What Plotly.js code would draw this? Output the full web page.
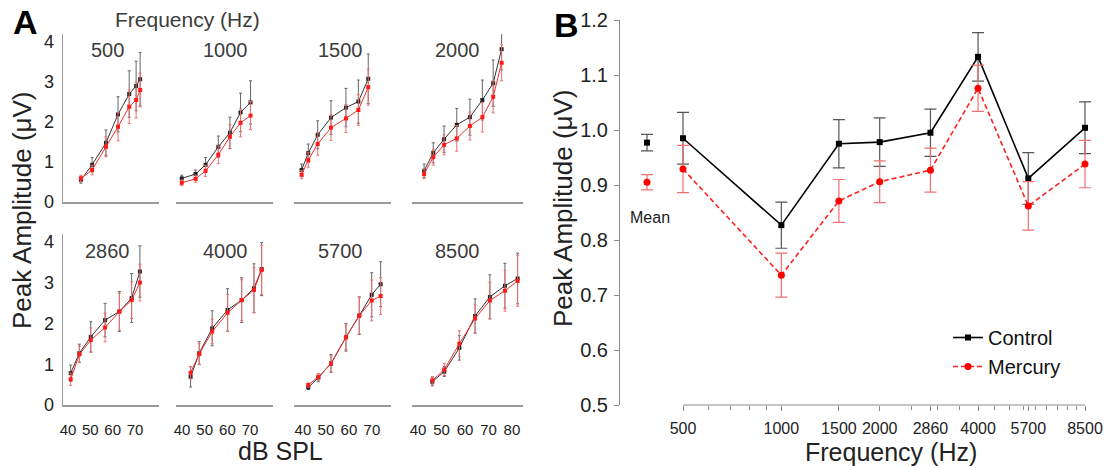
<!DOCTYPE html>
<html><head><meta charset="utf-8">
<script src="https://cdn.plot.ly/plotly-3.0.1.min.js"></script>
<style>html,body{margin:0;padding:0;background:#fff}#chart{width:1114px;height:468px}</style>
</head><body><div id="chart"></div>
<script>
// ---------- Panel A data (dB SPL vs peak amplitude, µV) ----------
const freqLabels = ['500','1000','1500','2000','2860','4000','5700','8500'];
const dbSPL = [
  [45.8, 50.8, 57.0, 62.4, 67.4, 70.5, 72.3],
  [39.9, 46.0, 50.4, 56.0, 61.1, 65.8, 70.2],
  [39.4, 42.3, 46.4, 52.2, 58.7, 64.1, 68.4],
  [42.6, 46.5, 51.1, 56.5, 62.1, 67.4, 72.0, 75.6],
  [41.2, 45.1, 50.2, 56.6, 63.0, 68.5, 72.2],
  [43.8, 47.6, 53.3, 60.1, 66.3, 71.7, 75.1],
  [42.3, 46.7, 52.2, 58.7, 64.5, 69.9, 73.8],
  [46.1, 51.2, 57.6, 64.3, 70.6, 77.0, 82.4]
];
const controlAmp = [
  [0.55, 0.93, 1.48, 2.19, 2.70, 2.90, 3.07],
  [0.59, 0.70, 0.93, 1.38, 1.73, 2.24, 2.49],
  [0.80, 1.22, 1.68, 2.11, 2.36, 2.51, 3.08],
  [0.78, 1.23, 1.57, 1.93, 2.12, 2.55, 2.97, 3.82],
  [0.78, 1.27, 1.67, 2.08, 2.29, 2.62, 3.27],
  [0.69, 1.27, 1.88, 2.33, 2.57, 2.86, 3.33],
  [0.43, 0.67, 1.02, 1.66, 2.19, 2.70, 2.96],
  [0.57, 0.82, 1.40, 2.18, 2.65, 2.92, 3.10]
];
const controlErr = [
  [0.08, 0.18, 0.32, 0.44, 0.58, 0.62, 0.67],
  [0.08, 0.10, 0.18, 0.27, 0.39, 0.48, 0.54],
  [0.15, 0.23, 0.35, 0.42, 0.48, 0.54, 0.62],
  [0.17, 0.25, 0.33, 0.41, 0.45, 0.50, 0.58, 0.52],
  [0.20, 0.22, 0.37, 0.41, 0.49, 0.60, 0.63],
  [0.25, 0.28, 0.43, 0.52, 0.55, 0.60, 0.65],
  [0.05, 0.10, 0.22, 0.34, 0.46, 0.54, 0.55],
  [0.10, 0.12, 0.30, 0.42, 0.54, 0.55, 0.62]
];
const mercuryAmp = [
  [0.59, 0.80, 1.38, 1.88, 2.38, 2.55, 2.80],
  [0.48, 0.58, 0.78, 1.18, 1.63, 1.98, 2.16],
  [0.68, 1.05, 1.45, 1.86, 2.09, 2.30, 2.87],
  [0.70, 1.12, 1.43, 1.59, 1.90, 2.12, 2.63, 3.48],
  [0.63, 1.24, 1.59, 1.90, 2.29, 2.57, 3.00],
  [0.79, 1.25, 1.80, 2.26, 2.57, 2.82, 3.31],
  [0.49, 0.69, 1.01, 1.66, 2.19, 2.56, 2.67],
  [0.60, 0.87, 1.50, 2.12, 2.56, 2.80, 3.04]
];
const mercuryErr = [
  [0.08, 0.12, 0.25, 0.35, 0.42, 0.45, 0.42],
  [0.07, 0.09, 0.14, 0.22, 0.30, 0.35, 0.35],
  [0.10, 0.18, 0.28, 0.32, 0.35, 0.38, 0.45],
  [0.12, 0.20, 0.25, 0.32, 0.35, 0.37, 0.40, 0.45],
  [0.15, 0.20, 0.30, 0.35, 0.45, 0.45, 0.45],
  [0.15, 0.25, 0.30, 0.45, 0.50, 0.55, 0.60],
  [0.05, 0.08, 0.20, 0.30, 0.45, 0.50, 0.45],
  [0.10, 0.15, 0.32, 0.35, 0.45, 0.50, 0.62]
];
const dbTicksShort = [40, 50, 60, 70];
const dbTicksLong = [40, 50, 60, 70, 80];
const ampTicks = [0, 1, 2, 3, 4];

// ---------- Panel B data (frequency vs peak amplitude) ----------
const bFreqs = [500, 1000, 1500, 2000, 2860, 4000, 5700, 8500];
const bFreqLabels = ['500','1000','1500','2000','2860','4000','5700','8500'];
const bMinorTicks = [600, 700, 800, 900, 2500, 3000, 3500, 4500, 5000, 5500, 6000, 6500, 7000, 7500, 8000];
const controlB = [0.985, 0.827, 0.975, 0.978, 0.995, 1.133, 0.912, 1.004];
const controlBErr = [0.047, 0.042, 0.044, 0.044, 0.043, 0.044, 0.047, 0.047];
const mercuryB = [0.929, 0.736, 0.871, 0.906, 0.927, 1.076, 0.862, 0.938];
const mercuryBErr = [0.043, 0.040, 0.039, 0.038, 0.040, 0.042, 0.044, 0.043];
const meanLabel = ['Mean'];
const controlMean = [0.977];
const controlMeanErr = [0.015];
const mercuryMean = [0.905];
const mercuryMeanErr = [0.014];
const bYTicks = [0.5, 0.6, 0.7, 0.8, 0.9, 1.0, 1.1, 1.2];

// ---------- layout helpers (pixel -> paper) ----------
const W = 1114, H = 468;
const fx = p => p / W;
const fy = p => 1 - p / H;
const FONT = 'Liberation Sans, Arial, sans-serif';

const colPx = [[63,159],[176,273],[294,391],[412,523]];
const colRange = [[37.76,80.75],[37.36,80.1],[36.1,78.3],[37.45,84.7]];
const rowPx = [[34,202],[233.6,405]];

const traces = [];
const layout = {
  width: W, height: H,
  margin: {l:0, r:0, t:0, b:0},
  paper_bgcolor: '#fff', plot_bgcolor: 'rgba(0,0,0,0)',
  font: {family: FONT, color: '#222'},
  showlegend: true,
  legend: {x: fx(948), y: fy(318), xanchor: 'left', yanchor: 'top',
           font: {size: 20, color: '#111', family: FONT}, bgcolor: 'rgba(0,0,0,0)',
           tracegroupgap: 0, itemwidth: 30},
  annotations: [], shapes: []
};

for (let i = 0; i < 8; i++) {
  const col = i % 4, row = Math.floor(i / 4);
  const xn = i + 1;
  const xa = 'xaxis' + (xn === 1 ? '' : xn);
  const xr = 'x' + (xn === 1 ? '' : xn);
  const yr = row === 0 ? 'y' : 'y2';
  layout[xa] = {
    domain: [fx(colPx[col][0]), fx(colPx[col][1])],
    range: colRange[col],
    anchor: yr,
    showline: true, linecolor: '#9a9a9a', linewidth: 2,
    showgrid: false, zeroline: false, ticks: '',
    tickmode: 'array', tickvals: col === 3 ? dbTicksLong : dbTicksShort,
    showticklabels: row === 1, tickangle: 0,
    tickfont: {size: 15, color: '#222'}, ticklabelstandoff: 10
  };
  traces.push({
    x: dbSPL[i], y: controlAmp[i], xaxis: xr, yaxis: yr, type: 'scatter', mode: 'lines+markers',
    line: {color: '#333', width: 1}, marker: {symbol: 'square', size: 4, color: '#222'},
    error_y: {type: 'data', array: controlErr[i], visible: true, color: '#666', thickness: 1, width: 1.5},
    showlegend: false, cliponaxis: false, hoverinfo: 'skip'
  });
  traces.push({
    x: dbSPL[i], y: mercuryAmp[i], xaxis: xr, yaxis: yr, type: 'scatter', mode: 'lines+markers',
    line: {color: '#f03030', width: 1}, marker: {symbol: 'square', size: 4, color: '#ff1a1a'},
    error_y: {type: 'data', array: mercuryErr[i], visible: true, color: '#ee7070', thickness: 1, width: 1.5},
    showlegend: false, cliponaxis: false, hoverinfo: 'skip'
  });
  const labX = [107, 225, 340, 457][col];
  const labY = row === 0 ? 50 : 251;
  layout.annotations.push({text: freqLabels[i], x: fx(labX), y: fy(labY), xref: 'paper', yref: 'paper',
    showarrow: false, font: {size: 20, color: '#3c3c3c', family: FONT}, xanchor: 'center', yanchor: 'middle'});
}
['yaxis','yaxis2'].forEach((ya, r) => {
  layout[ya] = {
    domain: [fy(rowPx[r][1]), fy(rowPx[r][0])],
    range: [0, 4.2], anchor: r === 0 ? 'x' : 'x5',
    showline: true, linecolor: '#9a9a9a', linewidth: 1.5,
    showgrid: false, zeroline: false, ticks: '',
    tickmode: 'array', tickvals: ampTicks,
    tickfont: {size: 18, color: '#222'}, ticklabelstandoff: 4
  };
});

// ---------- Panel B axes ----------
// axis spans 500..8500 Hz between px 683 and 1085; domain slightly wider so end error caps are not clipped
const pxPerDecade = (1085 - 683) / (Math.log10(8500) - Math.log10(500));
layout.xaxis9 = {
  type: 'log', domain: [fx(668), fx(1100)], anchor: 'y9',
  range: [Math.log10(500) - 15 / pxPerDecade, Math.log10(8500) + 15 / pxPerDecade],
  showline: false,
  showgrid: false, zeroline: false,
  tickmode: 'array', tickvals: bFreqs, ticktext: bFreqLabels, tickangle: 0,
  ticks: 'outside', ticklen: 5, tickcolor: '#8a8a8a',
  tickfont: {size: 16, color: '#222'}, ticklabelstandoff: 4,
  minor: {tickmode: 'array', tickvals: bMinorTicks, ticks: 'outside', ticklen: 4, tickcolor: '#8a8a8a', showgrid: false}
};
layout.shapes.push({type: 'line', xref: 'paper', yref: 'paper', x0: fx(683), x1: fx(1085), y0: fy(405), y1: fy(405),
  line: {color: '#8a8a8a', width: 1}});
layout.yaxis9 = {
  domain: [fy(405), fy(20)], range: [0.5, 1.2],
  anchor: 'free', position: fx(619),
  showline: true, linecolor: '#8a8a8a', linewidth: 1,
  showgrid: false, zeroline: false,
  tickmode: 'array', tickvals: bYTicks, ticktext: bYTicks.map(v => v.toFixed(1)),
  ticks: 'outside', ticklen: 5, tickcolor: '#8a8a8a',
  tickfont: {size: 20, color: '#222'}, ticklabelstandoff: 2
};
layout.xaxis10 = {domain: [fx(630), fx(664)], anchor: 'y9', range: [-1, 1], visible: false, type: 'category'};

traces.push({
  x: bFreqs, y: controlB, xaxis: 'x9', yaxis: 'y9', type: 'scatter', mode: 'lines+markers', name: 'Control',
  line: {color: '#000', width: 1.6}, marker: {symbol: 'square', size: 6, color: '#000'},
  error_y: {type: 'data', array: controlBErr, visible: true, color: '#555', thickness: 1.2, width: 6},
  cliponaxis: false, hoverinfo: 'skip'
});
traces.push({
  x: bFreqs, y: mercuryB, xaxis: 'x9', yaxis: 'y9', type: 'scatter', mode: 'lines+markers', name: 'Mercury',
  line: {color: '#ff2020', width: 1.6, dash: '5px,3px'}, marker: {symbol: 'circle', size: 7, color: '#ff0000'},
  error_y: {type: 'data', array: mercuryBErr, visible: true, color: '#ee7070', thickness: 1.2, width: 6},
  cliponaxis: false, hoverinfo: 'skip'
});
traces.push({
  x: meanLabel, y: controlMean, xaxis: 'x10', yaxis: 'y9', type: 'scatter', mode: 'markers',
  marker: {symbol: 'square', size: 6, color: '#000'},
  error_y: {type: 'data', array: controlMeanErr, visible: true, color: '#555', thickness: 1.2, width: 6},
  showlegend: false, cliponaxis: false, hoverinfo: 'skip'
});
traces.push({
  x: meanLabel, y: mercuryMean, xaxis: 'x10', yaxis: 'y9', type: 'scatter', mode: 'markers',
  marker: {symbol: 'circle', size: 7, color: '#ff0000'},
  error_y: {type: 'data', array: mercuryMeanErr, visible: true, color: '#ee7070', thickness: 1.2, width: 6},
  showlegend: false, cliponaxis: false, hoverinfo: 'skip'
});

// ---------- Text annotations ----------
const ann = (text, x, y, size, opts = {}) => layout.annotations.push(Object.assign({
  text, x: fx(x), y: fy(y), xref: 'paper', yref: 'paper', showarrow: false,
  xanchor: 'center', yanchor: 'middle', font: {size, color: '#222', family: FONT}
}, opts));
ann('<b>A</b>', 25, 22, 34, {font: {size: 34, color: '#000', family: FONT}});
ann('<b>B</b>', 566, 25, 34, {font: {size: 34, color: '#000', family: FONT}});
ann('Frequency (Hz)', 187, 20, 21, {font: {size: 21, color: '#3c3c3c', family: FONT}});
ann('Peak Amplitude (μV)', 22, 210, 26, {textangle: -90});
ann('dB SPL', 280, 451, 25);
ann('Peak Amplitude (μV)', 563, 208, 26, {textangle: -90});
ann('Frequency (Hz)', 891, 452, 25);
ann('Mean', 650, 217, 16);

Plotly.newPlot('chart', traces, layout, {displayModeBar: false, staticPlot: true});
</script></body></html>
